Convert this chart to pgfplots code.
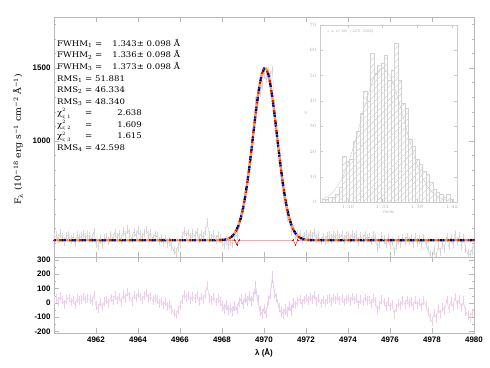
\documentclass[border=0pt]{standalone}
\usepackage{fontspec}
\setmainfont{Liberation Sans}
\newfontfamily\hfont[FakeStretch=1.1]{DejaVu Serif}
\usepackage{pgfplots}
\pgfplotsset{compat=1.18}
\usepackage{pgfplotstable}
\usetikzlibrary{patterns.meta}

\definecolor{resid}{rgb}{0.92,0.76,0.9}
\definecolor{fitorange}{rgb}{1,0.62,0}
\definecolor{framegray}{gray}{0.72}

% spectrum: wavelength, model fit, observed flux, residual
\pgfplotstableread{
x model obs res
4960.0 320 340 20
4960.1 320 350 30
4960.2 320 330 10
4960.3 320 365 45
4960.4 320 340 20
4960.5 320 310 -10
4960.6 320 345 25
4960.7 320 355 35
4960.8 320 325 5
4960.9 320 340 20
4961.0 320 305 -15
4961.1 320 350 30
4961.2 320 335 15
4961.3 320 345 25
4961.4 320 360 40
4961.5 320 340 20
4961.6 320 350 30
4961.7 320 345 25
4961.8 320 330 10
4961.9 320 375 55
4962.0 320 300 -20
4962.1 320 280 -40
4962.2 320 325 5
4962.3 320 290 -30
4962.4 320 330 10
4962.5 320 340 20
4962.6 320 315 -5
4962.7 320 355 35
4962.8 320 335 15
4962.9 320 370 50
4963.0 320 340 20
4963.1 320 360 40
4963.2 320 325 5
4963.3 320 380 60
4963.4 320 350 30
4963.5 320 395 75
4963.6 320 365 45
4963.7 320 330 10
4963.8 320 375 55
4963.9 320 355 35
4964.0 320 385 65
4964.1 320 360 40
4964.2 320 340 20
4964.3 320 370 50
4964.4 320 390 70
4964.5 320 350 30
4964.6 320 365 45
4964.7 320 335 15
4964.8 320 355 35
4964.9 320 345 25
4965.0 320 315 -5
4965.1 320 330 10
4965.2 320 305 -15
4965.3 320 325 5
4965.4 320 295 -25
4965.5 320 310 -10
4965.6 320 275 -45
4965.7 320 250 -70
4965.8 320 235 -85
4965.9 320 270 -50
4966.0 320 300 -20
4966.1 320 345 25
4966.2 320 380 60
4966.3 320 355 35
4966.4 320 370 50
4966.5 320 340 20
4966.6 320 365 45
4966.7 320 350 30
4966.8 320 375 55
4966.9 320 330 10
4967.0 320 360 40
4967.1 320 345 25
4967.2 320 380 60
4967.3 320 440 120
4967.4 320 350 30
4967.5 320 335 15
4967.6 320 360 40
4967.7 320 325 5
4967.8 320 350 30
4967.9 321 331 10
4968.0 322 302 -20
4968.1 323 288 -35
4968.2 326 316 -10
4968.3 331 286 -45
4968.4 338 308 -30
4968.5 349 299 -50
4968.6 367 352 -15
4968.7 392 352 -40
4968.8 427 437 10
4968.9 474 504 30
4969.0 536 531 -5
4969.1 614 654 40
4969.2 708 728 20
4969.3 817 867 50
4969.4 936 951 15
4969.5 1061 1096 35
4969.6 1184 1274 90
4969.7 1297 1307 10
4969.8 1391 1331 -60
4969.9 1460 1380 -80
4970.0 1496 1456 -40
4970.1 1496 1426 -70
4970.2 1460 1480 20
4970.3 1391 1451 60
4970.4 1297 1487 190
4970.5 1184 1254 70
4970.6 1061 1101 40
4970.7 936 906 -30
4970.8 817 762 -55
4970.9 708 638 -70
4971.0 614 574 -40
4971.1 536 476 -60
4971.2 474 454 -20
4971.3 427 382 -45
4971.4 392 397 5
4971.5 367 352 -15
4971.6 349 359 10
4971.7 338 363 25
4971.8 331 326 -5
4971.9 326 346 20
4972.0 323 358 35
4972.1 322 337 15
4972.2 321 361 40
4972.3 320 345 25
4972.4 320 375 55
4972.5 320 330 10
4972.6 320 350 30
4972.7 320 315 -5
4972.8 320 340 20
4972.9 320 320 0
4973.0 320 345 25
4973.1 320 350 30
4973.2 320 330 10
4973.3 320 355 35
4973.4 320 340 20
4973.5 320 360 40
4973.6 320 335 15
4973.7 320 350 30
4973.8 320 325 5
4973.9 320 345 25
4974.0 320 355 35
4974.1 320 330 10
4974.2 320 360 40
4974.3 320 340 20
4974.4 320 350 30
4974.5 320 310 -10
4974.6 320 345 25
4974.7 320 325 5
4974.8 320 355 35
4974.9 320 335 15
4975.0 320 340 20
4975.1 320 315 -5
4975.2 320 350 30
4975.3 320 330 10
4975.4 320 270 -50
4975.5 320 300 -20
4975.6 320 345 25
4975.7 320 325 5
4975.8 320 295 -25
4975.9 320 330 10
4976.0 320 290 -30
4976.1 320 310 -10
4976.2 320 240 -80
4976.3 320 285 -35
4976.4 320 320 0
4976.5 320 300 -20
4976.6 320 335 15
4976.7 320 310 -10
4976.8 320 340 20
4976.9 320 315 -5
4977.0 320 330 10
4977.1 320 295 -25
4977.2 320 340 20
4977.3 320 305 -15
4977.4 320 325 5
4977.5 320 290 -30
4977.6 320 335 15
4977.7 320 300 -20
4977.8 320 260 -60
4977.9 320 220 -100
4978.0 320 190 -130
4978.1 320 250 -70
4978.2 320 210 -110
4978.3 320 280 -40
4978.4 320 240 -80
4978.5 320 290 -30
4978.6 320 265 -55
4978.7 320 340 20
4978.8 320 280 -40
4978.9 320 330 10
4979.0 320 295 -25
4979.1 320 360 40
4979.2 320 310 -10
4979.3 320 345 25
4979.4 320 285 -35
4979.5 320 335 15
4979.6 320 260 -60
4979.7 320 230 -90
4979.8 320 220 -100
4979.9 320 250 -70
4980.0 320 280 -40
}\spec

\pgfplotsset{
  idl/.style={
    scale only axis, width=420bp,
    xmin=4960, xmax=4980,
    tick align=inside,
    axis line style={framegray},
    every tick/.style={framegray},
    major tick length=5bp, minor tick length=2.5bp,
    xtick={4962,4964,...,4980}, minor x tick num=3,
    ticklabel style={font=\fontsize{8}{9}\selectfont\bfseries},
    /pgf/number format/assume math mode=true,
    /pgf/number format/1000 sep={},
  },
  fit/.style={line width=2.4bp, line cap=butt, dash pattern=on 2.2bp off 7.8bp},
}

\begin{document}
\begin{tikzpicture}
\path[use as bounding box] (-54bp,-35bp) rectangle (436bp,333bp);

% residuals
\begin{axis}[idl, at={(0,0)}, anchor=south west, height=76bp,
    ymin=-210, ymax=320, ytick={-200,-100,...,300}, minor y tick num=1,
    xlabel={\bfseries λ (Å)}, xlabel style={font=\fontsize{8}{9}\selectfont, yshift=1bp}]
  \addplot[blue!25, thin, error bars/.cd, y dir=both, y fixed=30, error mark=none,
      error bar style={blue!20}] coordinates {
    (4968.0,-25) (4968.1,-45) (4968.2,-20) (4968.3,-55) (4968.4,-40) (4968.5,-60)
    (4968.6,-25) (4968.7,-50) (4968.8,0) (4968.9,20) (4969.0,-15) (4969.1,30)
    (4969.2,10) (4969.3,40) (4969.4,5) (4969.5,45) (4969.6,120) (4969.7,25)
    (4969.8,-50) (4969.9,-75) (4970.0,-45) (4970.1,-75) (4970.2,15) (4970.3,55)
    (4970.4,170) (4970.5,65) (4970.6,35) (4970.7,-35) (4970.8,-65) (4970.9,-80)
    (4971.0,-55) (4971.1,-70) (4971.2,-30) (4971.3,-60) (4971.4,-5)
  };
  \addplot[resid, thin, error bars/.cd, y dir=both, y fixed=30, error mark=none,
      error bar style={resid!80}] table[x=x, y=res] {\spec};
\end{axis}

% spectrum and fits
\begin{axis}[idl, at={(0,76bp)}, anchor=south west, height=240bp,
    ymin=205, ymax=1850, ytick={1000,1500}, minor ytick={300,400,...,1800},
    xticklabels={},
    ylabel={F\textsubscript{λ} (10\textsuperscript{−18} erg s\textsuperscript{−1} cm\textsuperscript{−2} Å\textsuperscript{−1})},
    ylabel style={font=\hfont\fontsize{8.5}{10}\selectfont, at={(rel axis cs:0,0.49)},
      anchor=center, yshift=36bp}]
  \addplot[gray!50, very thin, mark=*, mark size=0.35pt, error bars/.cd, y dir=both,
      y fixed=30, error mark=none, error bar style={gray!30}] table[x=x, y=obs] {\spec};
  \addplot[red, thin, mark=+, mark size=1pt] coordinates {
    (4960,320) (4968.6,320) (4968.7,290) (4968.8,320) (4971.4,320) (4971.5,285)
    (4971.6,320) (4980,320)
  };
  \addplot[fit, blue, dash phase=0bp] table[x=x, y=model] {\spec};
  \addplot[fit, black, dash phase=2.5bp] table[x=x, y=model] {\spec};
  \addplot[fit, red, dash phase=5bp] table[x=x, y=model] {\spec};
  \addplot[fit, fitorange, dash phase=7.5bp] table[x=x, y=model] {\spec};
\end{axis}

\node[anchor=north west, inner sep=0pt, align=left,
      font=\hfont\fontsize{7.8}{11.6}\selectfont] at (3bp,294bp) {%
  \makebox[38bp][l]{FWHM\textsubscript{1}}=\hspace{10bp}1.343±\ 0.098\ Å\\
  \makebox[38bp][l]{FWHM\textsubscript{2}}=\hspace{10bp}1.336±\ 0.098\ Å\\
  \makebox[38bp][l]{FWHM\textsubscript{3}}=\hspace{10bp}1.373±\ 0.098\ Å\\
  \makebox[28bp][l]{RMS\textsubscript{1}}= 51.881\\
  \makebox[28bp][l]{RMS\textsubscript{2}}= 46.334\\
  \makebox[28bp][l]{RMS\textsubscript{3}}= 48.340\\
  \makebox[28bp][l]{χ\rlap{\raisebox{0.95ex}{\fontsize{4.5}{5}\selectfont 2}}\raisebox{-0.6ex}{\fontsize{4.5}{5}\selectfont r, 1}}=\hspace{25bp}2.638\\
  \makebox[28bp][l]{χ\rlap{\raisebox{0.95ex}{\fontsize{4.5}{5}\selectfont 2}}\raisebox{-0.6ex}{\fontsize{4.5}{5}\selectfont r, 2}}=\hspace{25bp}1.609\\
  \makebox[28bp][l]{χ\rlap{\raisebox{0.95ex}{\fontsize{4.5}{5}\selectfont 2}}\raisebox{-0.6ex}{\fontsize{4.5}{5}\selectfont r, 3}}=\hspace{25bp}1.615\\
  \makebox[28bp][l]{RMS\textsubscript{4}}= 42.598};

% inset: distribution of FWHM
\begin{axis}[at={(266bp,131bp)}, anchor=south west, scale only axis,
    width=137bp, height=177bp,
    xmin=1.268, xmax=1.426, ymin=0, ymax=70,
    xtick={1.30,1.34,1.38,1.42}, ytick={0,10,...,70},
    tick align=inside, major tick length=3bp,
    axis line style={gray!40}, every tick/.style={gray!40},
    ticklabel style={font=\fontsize{3.5}{4}\selectfont, text=gray!60},
    xticklabel style={/pgf/number format/.cd, fixed, precision=2, fixed zerofill},
    xlabel={FWHM}, ylabel={N},
    label style={font=\fontsize{3.5}{4}\selectfont, text=gray!60},
    xlabel style={yshift=4bp}, ylabel style={yshift=-4bp}]
  \addplot[ybar interval, draw=gray!35,
      pattern={Lines[angle=45, distance=4.5bp, line width=0.4bp]}, pattern color=gray!40] coordinates {
    (1.270,1) (1.274,1) (1.278,2) (1.282,2) (1.286,3) (1.290,6) (1.294,18)
    (1.298,16) (1.302,17) (1.306,24) (1.310,28) (1.314,35) (1.318,44) (1.322,40)
    (1.326,59) (1.330,51) (1.334,54) (1.338,55) (1.342,58) (1.346,48) (1.350,52)
    (1.354,63) (1.358,48) (1.362,39) (1.366,37) (1.370,25) (1.374,22) (1.378,17)
    (1.382,15) (1.386,12) (1.390,11) (1.394,8) (1.398,5) (1.402,4) (1.406,3)
    (1.410,2) (1.414,3) (1.418,1) (1.422,0)
  };
  \addplot[gray!40, smooth] coordinates {
    (1.270,1.1) (1.280,3.0) (1.290,7.2) (1.300,14.7) (1.310,25.8) (1.320,38.5)
    (1.330,48.9) (1.340,53) (1.350,48.9) (1.360,38.5) (1.370,25.8) (1.380,14.7)
    (1.390,7.2) (1.400,3.0) (1.410,1.1) (1.420,0.3)
  };
  \node[anchor=north west, font=\fontsize{3.5}{4}\selectfont, text=gray!60]
    at (rel axis cs:0.03,0.99) {c. a. \#= '100.' ('2476.' 23/26)};
\end{axis}
\end{tikzpicture}
\end{document}
